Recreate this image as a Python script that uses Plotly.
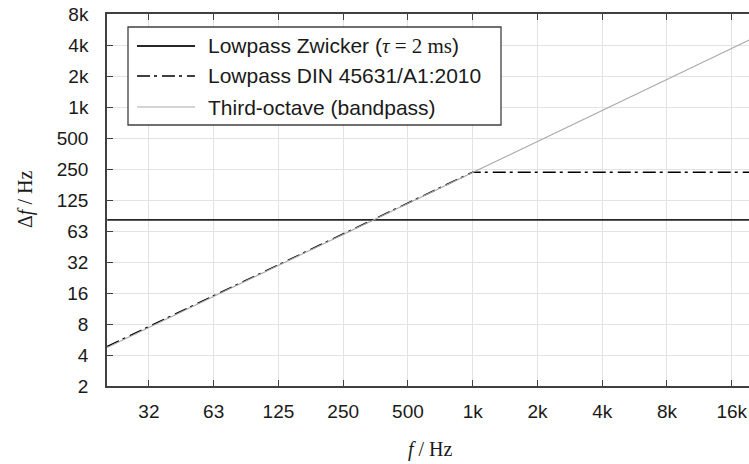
import plotly.graph_objects as go

# ---- data ----
zwicker_f = [20, 20000]
zwicker_df = [80, 80]

din_f = [20, 1000, 20000]
din_df = [4.72, 233, 233]

third_f = [20, 20000]
third_df = [4.63, 4630]

x_tickvals = [31.25, 62.5, 125, 250, 500, 1000, 2000, 4000, 8000, 16000]
x_ticktext = ["32", "63", "125", "250", "500", "1k", "2k", "4k", "8k", "16k"]
y_tickvals = [1.953125, 3.90625, 7.8125, 15.625, 31.25, 62.5, 125, 250, 500, 1000, 2000, 4000, 8000]
y_ticktext = ["2", "4", "8", "16", "32", "63", "125", "250", "500", "1k", "2k", "4k", "8k"]

series_names = [
    "Lowpass Zwicker (<span style='font-family:Liberation Serif'><i>τ</i> = 2 ms</span>)",
    "Lowpass DIN 45631/A1:2010",
    "Third-octave (bandpass)",
]

SANS = "Liberation Sans"
SERIF = "Liberation Serif"
AXC = "#404040"
GRID = "#e3e3e3"
TXT = "#1a1a1a"

styles = [
    dict(color="#262626", width=1.8),
    dict(color="#000000", width=1.5, dash="13px,4px,3px,5px"),
    dict(color="#aaaaaa", width=1.1),
]

fig = go.Figure()
for fx, fy, nm, st in [(zwicker_f, zwicker_df, series_names[0], styles[0]),
                       (din_f, din_df, series_names[1], styles[1]),
                       (third_f, third_df, series_names[2], styles[2])]:
    fig.add_trace(go.Scatter(x=fx, y=fy, mode="lines", name=nm, line=st, showlegend=False))

W, H = 749, 464
# plot-area in window pixels: x 107..749, y 14..386
L, R, T, B = 107, 749, 14, 386
def px(xp):
    return (xp - L) / (R - L)
def py(yp):
    return (B - yp) / (B - T)

shapes = [dict(type="rect", xref="paper", yref="paper",
               x0=px(128), x1=px(501), y0=py(125), y1=py(27),
               line=dict(color=AXC, width=1.3), fillcolor="white", layer="above")]
annotations = []
for i, (nm, st) in enumerate(zip(series_names, styles)):
    yy = [46, 76, 107][i]
    shapes.append(dict(type="line", xref="paper", yref="paper",
                       x0=px(137), x1=px(195), y0=py(yy), y1=py(yy),
                       line=st, layer="above"))
    annotations.append(dict(text=nm, xref="paper", yref="paper",
                            x=px(206), y=py(yy), xanchor="left", yanchor="middle",
                            showarrow=False, font=dict(family=SANS, size=21, color=TXT)))

annotations.append(dict(text="<i>f</i> / Hz", xref="paper", yref="paper",
                        x=px(430), y=py(449), xanchor="center", yanchor="middle",
                        showarrow=False, font=dict(family=SERIF, size=20, color=TXT)))
annotations.append(dict(text="Δ<i>f</i> / Hz", xref="paper", yref="paper",
                        x=px(25), y=py(200), xanchor="center", yanchor="middle",
                        textangle=-90, showarrow=False,
                        font=dict(family=SERIF, size=20, color=TXT)))

fig.update_layout(
    width=W, height=H,
    margin=dict(l=L, r=W - R, t=T, b=H - B),
    paper_bgcolor="white", plot_bgcolor="white",
    font=dict(family=SANS, size=19, color=TXT),
    showlegend=False,
    shapes=shapes, annotations=annotations,
    xaxis=dict(type="log", range=[1.300, 4.2846], automargin=False,
               tickvals=x_tickvals, ticktext=x_ticktext, ticklabeloverflow="allow",
               ticks="inside", ticklen=6, tickcolor=AXC, tickwidth=1.2,
               showline=True, linecolor=AXC, linewidth=1.6, mirror="allticks",
               showgrid=True, gridcolor=GRID, gridwidth=1,
               zeroline=False, ticklabelstandoff=7),
    yaxis=dict(type="log", range=[0.29073, 3.90309], automargin=False,
               tickvals=y_tickvals, ticktext=y_ticktext, ticklabeloverflow="allow",
               ticks="inside", ticklen=6, tickcolor=AXC, tickwidth=1.2,
               showline=True, linecolor=AXC, linewidth=1.6,
               showgrid=True, gridcolor=GRID, gridwidth=1,
               zeroline=False, ticklabelstandoff=13),
    yaxis2=dict(type="log", range=[0.29073, 3.90309], overlaying="y", side="right",
                automargin=False, tickvals=y_tickvals, showticklabels=False,
                ticks="inside", ticklen=6, tickcolor=AXC, tickwidth=1.2,
                showline=False, showgrid=False, zeroline=False),
)

# remove the default page margin so the 749x464 figure fills the window exactly
fig.write_html("out.html",
               config={"displayModeBar": False},
               post_script="document.body.style.margin='0';document.body.style.overflow='hidden';")
